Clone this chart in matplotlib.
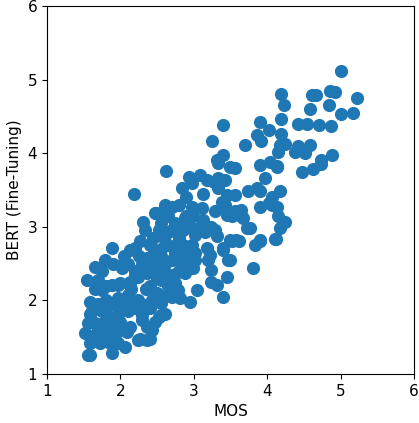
import matplotlib
matplotlib.use("Agg")
import matplotlib.pyplot as plt
import numpy as np

mos = [
 5.01,5.22,4.86,4.92,4.61,4.67,4.19,4.23,4.84,4.58,5.01,5.17,4.19,4.42,4.54,4.70,4.87,4.19,4.17,4.24,4.42,4.58,4.38,4.51,4.88,4.15,4.74,4.74,4.63,4.47,4.14,4.17,4.13,4.15,4.24,4.17,4.12,
 3.90,4.02,3.86,3.92,3.70,3.90,4.04,4.13,3.97,3.74,3.86,3.90,4.06,4.06,3.90,3.77,3.90,4.11,
 3.40,3.25,3.40,3.31,3.33,3.49,3.56,3.43,2.93,3.08,3.18,3.27,2.84,2.97,3.13,3.33,3.45,3.56,3.38,3.43,2.97,3.11,2.88,2.99,3.13,3.29,3.45,3.52,3.65,3.67,3.74,2.93,3.06,3.24,3.31,3.52,3.61,3.83,3.90,2.79,2.97,3.40,3.49,3.81,3.20,3.24,2.93,3.02,2.77,2.84,2.88,3.24,3.31,3.45,3.04,3.40,2.81,2.95,2.79,2.99,2.74,
 3.33,2.90,3.43,3.56,3.65,3.72,4.02,3.02,3.15,3.29,3.49,3.58,2.79,3.40,3.47,3.18,3.22,2.95,3.02,2.74,
 2.19,2.61,2.70,2.49,2.58,2.65,2.31,2.34,2.52,2.65,2.27,2.20,2.13,1.88,1.79,2.02,2.11,2.36,2.45,2.52,2.61,2.84,2.74,1.54,1.70,1.65,1.75,1.88,1.99,2.13,2.24,2.36,2.47,2.56,2.65,2.74,1.59,1.81,1.97,2.11,2.24,2.29,2.43,2.56,2.70,2.79,1.59,1.56,1.75,1.86,1.97,2.11,2.20,2.56,2.52,2.29,2.36,1.65,1.84,1.97,2.13,1.52,1.63,2.27,2.40,1.84,1.86,1.97,2.06,1.59,1.88,
 1.61,1.59,1.59,1.56,1.95,2.09,2.24,2.36,2.43,2.47,2.61,2.20,2.34,1.81,1.97,2.13,2.20,2.02,1.77,1.79,1.72,
 2.40,2.50,2.60,2.70,2.45,2.30,2.20,2.55,2.65,2.40,2.80,2.70,2.85,2.50,2.60,2.35,2.15,2.05,1.90,1.80,1.70,2.00,2.30,2.40,1.75,1.65,1.90,2.05,2.25,2.60,2.75,2.55,2.80,2.90,2.45,2.85,1.70,1.80,2.55,2.70,
 2.62,2.47,2.61,
]
bert = [
 5.12,4.75,4.84,4.83,4.79,4.79,4.80,4.65,4.66,4.60,4.53,4.54,4.46,4.40,4.40,4.38,4.37,4.26,4.11,4.12,4.10,4.11,4.02,4.00,3.98,4.02,3.91,3.85,3.78,3.74,3.81,3.49,3.27,3.14,3.07,2.98,2.83,
 4.42,4.32,4.25,4.17,4.11,3.84,3.88,3.82,3.66,3.48,3.52,3.48,3.41,3.30,3.27,2.98,2.82,2.84,
 4.38,4.17,3.98,3.91,3.86,3.81,3.80,3.64,3.68,3.70,3.64,3.61,3.52,3.59,3.45,3.52,3.43,3.43,3.34,3.30,3.27,3.25,3.12,3.14,3.09,3.21,3.16,3.14,3.23,3.12,2.98,3.00,2.98,3.00,2.87,2.80,2.80,2.75,2.80,2.73,2.75,2.71,2.55,2.44,2.55,2.41,2.59,2.64,2.55,2.46,2.37,2.25,2.21,2.32,2.14,2.05,2.03,1.98,2.39,2.44,2.21,
 3.66,3.14,3.27,3.22,3.14,2.98,3.32,2.89,2.93,2.96,2.82,2.82,2.78,2.68,2.55,2.71,2.62,2.64,2.55,2.59,
 3.45,3.27,3.27,3.18,3.12,3.14,3.06,2.96,2.96,2.93,2.80,2.71,2.68,2.71,2.55,2.48,2.50,2.57,2.62,2.55,2.50,2.62,2.66,2.28,2.28,2.16,2.14,2.21,2.23,2.23,2.32,2.37,2.41,2.28,2.19,2.23,1.98,2.01,2.03,2.07,2.01,1.91,2.01,1.96,2.05,2.14,1.82,1.69,1.85,1.78,1.82,1.85,1.89,1.80,1.78,1.73,1.64,1.69,1.64,1.60,1.64,1.55,1.51,1.48,1.48,1.46,1.42,1.42,1.37,1.26,1.28,
 1.85,1.71,1.42,1.26,1.57,1.57,1.46,1.46,1.60,1.71,1.82,1.96,1.94,2.19,2.21,2.25,2.35,2.44,1.69,1.53,1.42,
 2.20,2.30,2.40,2.55,2.45,2.50,2.40,2.70,2.75,2.75,2.85,2.95,2.95,2.10,2.05,2.15,2.15,1.95,1.95,1.90,1.95,1.70,1.80,1.90,2.40,2.45,2.50,2.60,2.60,2.85,3.05,3.05,3.30,3.40,2.85,2.75,1.60,1.50,2.60,2.35,
 3.76,3.18,3.30,
]

fig = plt.figure(figsize=(4.19, 4.23), dpi=100)
ax = fig.add_axes([0.112, 0.116, 0.876, 0.870])
ax.scatter(mos, bert, s=90, color="#1f77b4", linewidths=0)
ax.set_xlim(1, 6)
ax.set_ylim(1, 6)
ax.set_xticks([1, 2, 3, 4, 5, 6])
ax.set_yticks([1, 2, 3, 4, 5, 6])
ax.tick_params(labelsize=11)
ax.set_xlabel("MOS", fontsize=11)
ax.set_ylabel("BERT (Fine-Tuning)", fontsize=11)
fig.savefig("out.png", dpi=100)
